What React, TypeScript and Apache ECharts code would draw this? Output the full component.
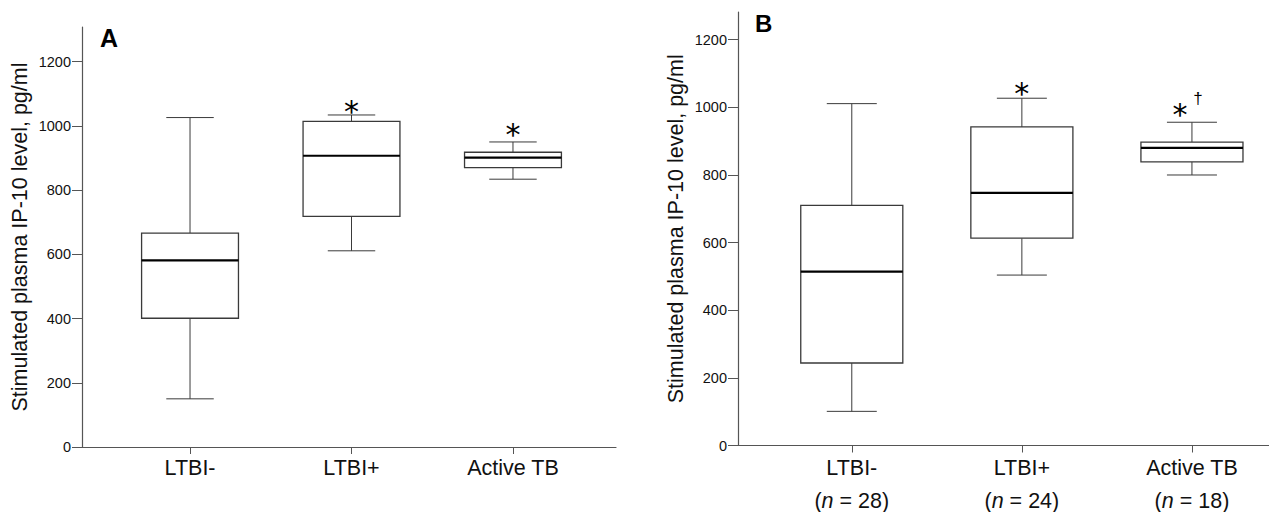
import React, { useEffect, useRef } from "react";
import * as echarts from "echarts";

const categories = ["LTBI-", "LTBI+", "Active TB"];
const groupSizesB = [28, 24, 18];
const yTicks = [0, 200, 400, 600, 800, 1000, 1200];
const catPositions = [1, 2, 3];
// [min, Q1, median, Q3, max]
const boxA = [
  [150, 401, 581, 666, 1026],
  [611, 718, 907, 1014, 1034],
  [834, 870, 901, 918, 950],
];
const boxB = [
  [101, 244, 514, 710, 1011],
  [504, 613, 747, 942, 1027],
  [800, 839, 880, 897, 956],
];
// [category position, value, symbol]
const marksA = [
  [2, 1063, "*"],
  [3, 992, "*"],
];
const marksB = [
  [2, 1058, "*"],
  [3, 998, "*"],
  [3, 1027, "†"],
];
const yName = "Stimulated plasma IP-10 level, pg/ml";

// styling
const FONT = "'Liberation Sans', Arial, Helvetica, sans-serif";
const BOX_HALF = 0.3;
const CAP_HALF = 0.147;
const BOX_STROKE = "#3a3a3a";
const AXIS_COLOR = "#555";
const TEXT_COLOR = "#111";
const markDxA = [0, 0];
const markDxB = [0, -12, 6];

function renderBox(params: any, api: any) {
  const x = api.value(0);
  const mn = api.value(1);
  const q1 = api.value(2);
  const md = api.value(3);
  const q3 = api.value(4);
  const mx = api.value(5);
  const c = (xx: number, yy: number) => api.coord([xx, yy]);
  const line = (a: number[], b: number[], w: number, col: string) => ({
    type: "line",
    shape: { x1: a[0], y1: a[1], x2: b[0], y2: b[1] },
    style: { stroke: col, lineWidth: w },
  });
  const tl = c(x - BOX_HALF, q3);
  const br = c(x + BOX_HALF, q1);
  return {
    type: "group",
    children: [
      line(c(x, mx), c(x, q3), 1, BOX_STROKE),
      line(c(x, q1), c(x, mn), 1, BOX_STROKE),
      line(c(x - CAP_HALF, mx), c(x + CAP_HALF, mx), 1, BOX_STROKE),
      line(c(x - CAP_HALF, mn), c(x + CAP_HALF, mn), 1, BOX_STROKE),
      {
        type: "rect",
        shape: { x: tl[0], y: tl[1], width: br[0] - tl[0], height: br[1] - tl[1] },
        style: { fill: "#fff", stroke: BOX_STROKE, lineWidth: 1.3 },
      },
      line(c(x - BOX_HALF, md), c(x + BOX_HALF, md), 2.2, "#000"),
    ],
  };
}

function markSeries(marks: any[], dxs: number[], idx: number) {
  return {
    type: "custom",
    xAxisIndex: idx,
    yAxisIndex: idx,
    silent: true,
    data: marks.map((m) => [m[0], m[1]]),
    encode: { x: 0, y: 1 },
    renderItem: (params: any, api: any) => {
      const i = params.dataIndex;
      const m = marks[i];
      const p = api.coord([api.value(0), api.value(1)]);
      const isStar = m[2] === "*";
      return {
        type: "text",
        x: p[0] + dxs[i],
        y: p[1] + (isStar ? 6 : 0),
        style: {
          text: m[2],
          fill: "#000",
          font: isStar ? `30px 'DejaVu Sans', sans-serif` : `17px ${FONT}`,
          align: "center",
          verticalAlign: "middle",
        },
      };
    },
  };
}

export default function App() {
  const ref = useRef<HTMLDivElement>(null);
  useEffect(() => {
    document.body.style.margin = "0";
    const chart = echarts.init(ref.current!, null, { renderer: "svg" });
    const yAxisBase = (gi: number, max: number) => ({
      type: "value",
      gridIndex: gi,
      min: 0,
      max,
      name: yName,
      nameLocation: "middle",
      nameGap: 51,
      nameTextStyle: { fontFamily: FONT, fontSize: 21.5, color: TEXT_COLOR },
      splitLine: { show: false },
      axisLine: { show: true, onZero: false, lineStyle: { color: AXIS_COLOR, width: 1.2 } },
      axisTick: { show: true, length: 10, customValues: yTicks, lineStyle: { color: AXIS_COLOR } },
      axisLabel: {
        customValues: yTicks,
        margin: 11,
        formatter: (v: number) => String(v),
        fontFamily: FONT,
        fontSize: 14.5,
        color: TEXT_COLOR,
      },
    });
    const xAxisBase = (gi: number, min: number, max: number, rich: boolean) => ({
      type: "value",
      gridIndex: gi,
      min,
      max,
      splitLine: { show: false },
      axisLine: { show: true, onZero: false, lineStyle: { color: AXIS_COLOR, width: 1.2 } },
      axisTick: { show: true, length: 7, customValues: catPositions, lineStyle: { color: AXIS_COLOR } },
      axisLabel: rich
        ? {
            customValues: catPositions,
            margin: 6,
            formatter: (v: number) => {
              const i = Math.round(v) - 1;
              return `{a|${categories[i]}}\n{b|(}{i|n}{b| = ${groupSizesB[i]})}`;
            },
            rich: {
              a: { fontFamily: FONT, fontSize: 21.5, lineHeight: 33, color: TEXT_COLOR },
              b: { fontFamily: FONT, fontSize: 21.5, lineHeight: 33, color: TEXT_COLOR },
              i: { fontFamily: FONT, fontSize: 21.5, lineHeight: 33, fontStyle: "italic", color: TEXT_COLOR },
            },
          }
        : {
            customValues: catPositions,
            margin: 10,
            formatter: (v: number) => categories[Math.round(v) - 1],
            fontFamily: FONT,
            fontSize: 21.5,
            color: TEXT_COLOR,
          },
    });
    chart.setOption({
      animation: false,
      backgroundColor: "#fff",
      grid: [
        { left: 82, top: 27, width: 534, height: 420 },
        { left: 738, top: 12, width: 531, height: 435 },
      ],
      xAxis: [xAxisBase(0, 0.331, 3.638, false), xAxisBase(1, 0.331, 3.453, true)],
      yAxis: [yAxisBase(0, 1308), yAxisBase(1, 1282)],
      graphic: [
        {
          type: "text",
          x: 100,
          y: 25,
          style: { text: "A", font: `bold 25px ${FONT}`, fill: "#000", verticalAlign: "top" },
        },
        {
          type: "text",
          x: 755,
          y: 11,
          style: { text: "B", font: `bold 24px ${FONT}`, fill: "#000", verticalAlign: "top" },
        },
      ],
      series: [
        {
          type: "custom",
          xAxisIndex: 0,
          yAxisIndex: 0,
          silent: true,
          data: boxA.map((b, i) => [catPositions[i], ...b]),
          encode: { x: 0, y: [1, 2, 3, 4, 5] },
          renderItem: renderBox,
        },
        {
          type: "custom",
          xAxisIndex: 1,
          yAxisIndex: 1,
          silent: true,
          data: boxB.map((b, i) => [catPositions[i], ...b]),
          encode: { x: 0, y: [1, 2, 3, 4, 5] },
          renderItem: renderBox,
        },
        markSeries(marksA, markDxA, 0),
        markSeries(marksB, markDxB, 1),
      ],
    });
    return () => chart.dispose();
  }, []);
  return <div ref={ref} style={{ width: 1269, height: 512 }} />;
}
